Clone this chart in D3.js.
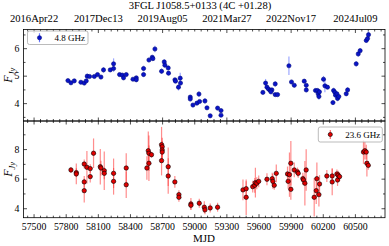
<!DOCTYPE html>
<html>
<head>
<meta charset="utf-8">
<script src="https://cdn.jsdelivr.net/npm/d3@7"></script>
<style>
  body { margin: 0; background: #fff; }
  text { font-family: "Liberation Serif", "DejaVu Serif", serif; fill: #000; }
</style>
</head>
<body>
<div id="chart"></div>
<script>
// 1: DATA
const title = "3FGL J1058.5+0133 (4C +01.28)";

// 4.8 GHz light curve
const mjd48  = [57821, 57849, 57880, 57942, 57973, 57992, 58001, 58023, 58067, 58097, 58129, 58153, 58216, 58247, 58247,
                58303, 58328, 58340, 58365, 58428, 58459, 58459, 58527, 58527, 58577, 58608, 58614, 58633, 58695, 58720,
                58726, 58757, 58760, 58820, 58825, 58853, 58869, 58872, 58963, 58963, 58988, 59025, 59044, 59050, 59100,
                59119, 59149, 59218, 59250, 59250,
                59641, 59666, 59679, 59694, 59710, 59725, 59716, 59756, 59756, 59778, 59884, 59908, 59934, 60027, 60046,
                60046, 60132, 60151, 60157, 60164, 60169, 60207, 60220, 60244, 60295, 60301, 60313, 60319, 60332, 60338,
                60350, 60419, 60432, 60512, 60531, 60549, 60606, 60618, 60627];
const flux48 = [4.82, 4.74, 4.81, 4.76, 4.73, 4.81, 4.98, 4.97, 4.97, 5.04, 4.95, 5.21, 5.21, 5.43, 5.26,
                5.04, 5.02, 4.92, 5.04, 4.87, 4.92, 4.85, 5.26, 5.04, 5.57, 5.67, 5.62, 5.97, 5.16, 5.50,
                5.38, 5.28, 5.09, 4.85, 4.80, 4.58, 4.91, 4.73, 4.22, 4.15, 3.93, 4.00, 4.33, 4.06, 4.08,
                3.83, 3.54, 3.82, 3.73, 3.56,
                4.39, 4.73, 4.58, 4.51, 4.46, 4.48, 4.41, 4.70, 4.31, 4.31, 5.36, 4.77, 4.65, 4.80, 4.65,
                4.48, 4.46, 4.46, 4.34, 4.24, 4.41, 4.87, 4.63, 4.58, 4.02, 4.46, 4.39, 4.29, 4.34, 4.17,
                4.24, 4.34, 4.48, 5.43, 5.79, 5.91, 6.28, 6.35, 6.49];
const err48  = [0.05, 0.04, 0.04, 0.08, 0.06, 0.05, 0.10, 0.06, 0.05, 0.05, 0.06, 0.10, 0.06, 0.20, 0.12,
                0.05, 0.05, 0.06, 0.05, 0.06, 0.06, 0.08, 0.10, 0.08, 0.08, 0.08, 0.08, 0.12, 0.10, 0.10,
                0.08, 0.08, 0.08, 0.06, 0.06, 0.12, 0.20, 0.08, 0.08, 0.08, 0.05, 0.05, 0.10, 0.05, 0.10,
                0.05, 0.05, 0.05, 0.05, 0.05,
                0.05, 0.15, 0.08, 0.08, 0.08, 0.08, 0.08, 0.10, 0.06, 0.06, 0.34, 0.08, 0.06, 0.08, 0.06,
                0.08, 0.08, 0.08, 0.10, 0.12, 0.08, 0.12, 0.23, 0.06, 0.08, 0.10, 0.08, 0.08, 0.08, 0.10,
                0.08, 0.08, 0.10, 0.10, 0.10, 0.08, 0.08, 0.08, 0.12];

// 23.6 GHz light curve
const mjd236  = [57849, 57899, 57899, 57973, 57973, 57973, 57998, 58029, 58029, 58060, 58123, 58129, 58160, 58160, 58247,
                 58247, 58365, 58365, 58558, 58571, 58577, 58577, 58601, 58695, 58701, 58701, 58701, 58695, 58757, 58757,
                 58819, 58857, 58857, 58969, 58969, 59047, 59094, 59100, 59149, 59218,
                 59455, 59485, 59485, 59546, 59565, 59571, 59584, 59602, 59679, 59728, 59734, 59747, 59766, 59871, 59877,
                 59889, 59902, 59902, 59934, 59964, 59971, 60014, 60020, 60033, 60045, 60120, 60139, 60145, 60164, 60170,
                 60238, 60288, 60288, 60332, 60338, 60344, 60357, 60580, 60593, 60606, 60612, 60625];
const flux236 = [6.59, 6.41, 6.32, 6.99, 5.78, 5.19, 6.77, 6.68, 6.14, 7.72, 6.81, 6.72, 6.54, 6.36, 6.36,
                 5.82, 6.72, 5.59, 6.72, 7.89, 7.72, 7.04, 7.62, 8.30, 8.16, 7.94, 7.80, 7.22, 6.81, 6.18,
                 5.78, 4.92, 4.74, 4.29, 4.20, 4.34, 4.07, 3.89, 4.02, 4.07,
                 5.24, 5.32, 4.74, 5.46, 5.55, 5.73, 5.69, 5.82, 5.96, 6.00, 5.82, 5.55, 6.36, 6.32, 5.82,
                 6.27, 7.04, 5.28, 6.59, 6.45, 6.36, 6.00, 5.91, 5.69, 6.59, 4.74, 5.19, 6.00, 4.92, 5.64,
                 6.18, 6.18, 5.78, 6.32, 5.91, 6.23, 6.14, 7.80, 7.89, 7.80, 7.04, 6.90];
const err236  = [0.20, 0.30, 0.70, 0.30, 0.40, 0.80, 1.10, 0.30, 0.40, 1.00, 1.20, 0.50, 1.30, 0.40, 1.00,
                 0.90, 1.00, 0.90, 0.80, 1.30, 1.20, 1.20, 0.20, 1.20, 0.60, 0.60, 0.50, 1.00, 1.30, 1.20,
                 0.40, 0.30, 0.30, 0.40, 0.30, 0.30, 0.40, 0.30, 0.30, 0.30,
                 0.70, 0.50, 1.20, 0.40, 0.50, 1.00, 0.40, 0.40, 0.40, 0.40, 0.50, 0.30, 0.60, 0.50, 0.50,
                 1.50, 1.50, 0.70, 0.50, 0.30, 0.30, 0.40, 0.30, 1.50, 1.40, 1.30, 0.90, 1.10, 0.80, 0.60,
                 0.40, 0.50, 0.90, 0.30, 0.40, 0.30, 0.30, 0.80, 0.60, 0.50, 0.90, 0.30];

// tick labels
const mjdTicks   = [57500, 57800, 58100, 58400, 58700, 59000, 59300, 59600, 59900, 60200, 60500];
const dateTicks  = [57500, 58100, 58700, 59300, 59900, 60500];
const dateLabels = ["2016Apr22", "2017Dec13", "2019Aug05", "2021Mar27", "2022Nov17", "2024Jul09"];
const yTicksTop  = [4, 5, 6];
const yTicksBot  = [4, 6, 8];
const legendTop  = "4.8 GHz";
const legendBot  = "23.6 GHz";

// 2: LAYOUT
const W = 389, H = 246;
const margin = { top: 29.5, right: 4, bottom: 28.3, left: 23.5 };
const width = W - margin.left - margin.right;
const panelTopH = 91.5;
const panelBotH = H - margin.top - margin.bottom - panelTopH;

const svg = d3.select("#chart")
    .append("svg")
    .attr("width", W)
    .attr("height", H);

// 3: SCALES
const xScale = d3.scaleLinear().domain([57406, 60781]).range([0, width]);
const yTop = d3.scaleLinear().domain([3.35, 6.68]).range([panelTopH, 0]);
const yBot = d3.scaleLinear().domain([3.36, 9.9]).range([panelBotH, 0]);

const topPanel = svg.append("g").attr("transform", `translate(${margin.left},${margin.top})`);
const botPanel = svg.append("g").attr("transform", `translate(${margin.left},${margin.top + panelTopH})`);

// 5: AXES (ticks point inward on all four sides)
function frameAxes(g, y, h, xMajor, yMajor, yMinor, xLabels) {
    const xMinor = d3.range(57440, 60781, 60).filter(v => !xMajor.includes(v));
    // bottom edge
    g.append("g").attr("class", "ax").attr("transform", `translate(0,${h})`)
        .call(d3.axisBottom(xScale).tickValues(xMajor).tickSize(-3.5).tickPadding(5)
            .tickFormat(xLabels ? d3.format("d") : ""));
    g.append("g").attr("class", "ax").attr("transform", `translate(0,${h})`)
        .call(d3.axisBottom(xScale).tickValues(xMinor).tickSize(-2).tickFormat(""));
    // top edge
    g.append("g").attr("class", "ax")
        .call(d3.axisTop(xScale).tickValues(xMajor).tickSize(-3.5).tickFormat(""));
    g.append("g").attr("class", "ax")
        .call(d3.axisTop(xScale).tickValues(xMinor).tickSize(-2).tickFormat(""));
    // left edge
    g.append("g").attr("class", "ax")
        .call(d3.axisLeft(y).tickValues(yMajor).tickSize(-3.5).tickPadding(4).tickFormat(d3.format("d")));
    g.append("g").attr("class", "ax")
        .call(d3.axisLeft(y).tickValues(yMinor).tickSize(-2).tickFormat(""));
    // right edge
    g.append("g").attr("class", "ax").attr("transform", `translate(${width},0)`)
        .call(d3.axisRight(y).tickValues(yMajor).tickSize(-3.5).tickFormat(""));
    g.append("g").attr("class", "ax").attr("transform", `translate(${width},0)`)
        .call(d3.axisRight(y).tickValues(yMinor).tickSize(-2).tickFormat(""));
    g.append("rect")
        .attr("width", width).attr("height", h)
        .attr("fill", "none").attr("stroke", "#000").attr("stroke-width", 0.8);
}

frameAxes(topPanel, yTop, panelTopH, dateTicks, yTicksTop, [3.5, 4.5, 5.5, 6.5], false);
frameAxes(botPanel, yBot, panelBotH, mjdTicks, yTicksBot, [5, 7, 9], true);

svg.selectAll(".ax .domain").remove();
svg.selectAll(".ax line").attr("stroke", "#000").attr("stroke-width", 0.7);
svg.selectAll(".ax text").style("font-size", "9.8px").style("font-family", "Liberation Serif");

// date labels on the top axis
topPanel.append("g").attr("class", "ax2")
    .call(d3.axisTop(xScale).tickValues(dateTicks).tickSize(0).tickPadding(8)
        .tickFormat((d, i) => dateLabels[i]));
topPanel.select(".ax2 .domain").remove();
topPanel.selectAll(".ax2 text").style("font-size", "10.6px").style("font-family", "Liberation Serif");

// 4: PLOT DATA
function drawSeries(g, y, mjd, flux, err, barColor, barOpacity, fill, edge, r) {
    const data = mjd.map((m, i) => ({ m: m, f: flux[i], e: err[i] }));
    g.append("g").selectAll("line").data(data).join("line")
        .attr("x1", d => xScale(d.m)).attr("x2", d => xScale(d.m))
        .attr("y1", d => y(d.f - d.e)).attr("y2", d => y(d.f + d.e))
        .attr("stroke", barColor).attr("stroke-opacity", barOpacity).attr("stroke-width", 1.2);
    g.append("g").selectAll("circle").data(data).join("circle")
        .attr("cx", d => xScale(d.m)).attr("cy", d => y(d.f))
        .attr("r", r).attr("fill", fill).attr("stroke", edge).attr("stroke-width", 0.6);
}

drawSeries(topPanel, yTop, mjd48, flux48, err48, "#5a6cff", 0.6, "#0a14c8", "#000a80", 2.1);
drawSeries(botPanel, yBot, mjd236, flux236, err236, "#ff3030", 0.55, "#e00000", "#000", 2.2);

// 6: LABELS
svg.append("text")
    .attr("x", 200).attr("y", 9)
    .attr("text-anchor", "middle")
    .style("font-size", "10.6px")
    .text(title);

svg.append("text")
    .attr("x", 204).attr("y", 242)
    .attr("text-anchor", "middle")
    .style("font-size", "11px")
    .text("MJD");

function yLabel(cy) {
    const t = svg.append("text")
        .attr("transform", `translate(12,${cy}) rotate(-90)`)
        .attr("text-anchor", "middle")
        .style("font-size", "12px");
    t.append("tspan").style("font-style", "italic").text("F");
    t.append("tspan").attr("dy", 2.5).style("font-size", "8.5px").style("font-style", "italic").text("Jy");
}
yLabel(margin.top + panelTopH / 2);
yLabel(margin.top + panelTopH + panelBotH / 2);

// legends
function legend(g, x, y, w, h, label, barColor, fill, edge) {
    const lg = g.append("g").attr("transform", `translate(${x},${y})`);
    lg.append("rect").attr("width", w).attr("height", h).attr("rx", 2)
        .attr("fill", "#fff").attr("fill-opacity", 0.8)
        .attr("stroke", "#aaa").attr("stroke-width", 0.8);
    lg.append("line").attr("x1", 12).attr("x2", 12).attr("y1", h / 2 - 4.5).attr("y2", h / 2 + 4.5)
        .attr("stroke", barColor).attr("stroke-width", 1.2);
    lg.append("circle").attr("cx", 12).attr("cy", h / 2).attr("r", 2.1)
        .attr("fill", fill).attr("stroke", edge).attr("stroke-width", 0.6);
    lg.append("text").attr("x", 27).attr("y", h / 2 + 3)
        .style("font-size", "9px").text(label);
}
legend(topPanel, 4, 1.5, 60.5, 13.5, legendTop, "#6a78ff", "#0a14c8", "#000a80");
legend(botPanel, width - 66.7, 6, 64, 15, legendBot, "#ff6a6a", "#e00000", "#000");

// 7: INTERACTIVITY (none)
</script>
</body>
</html>
